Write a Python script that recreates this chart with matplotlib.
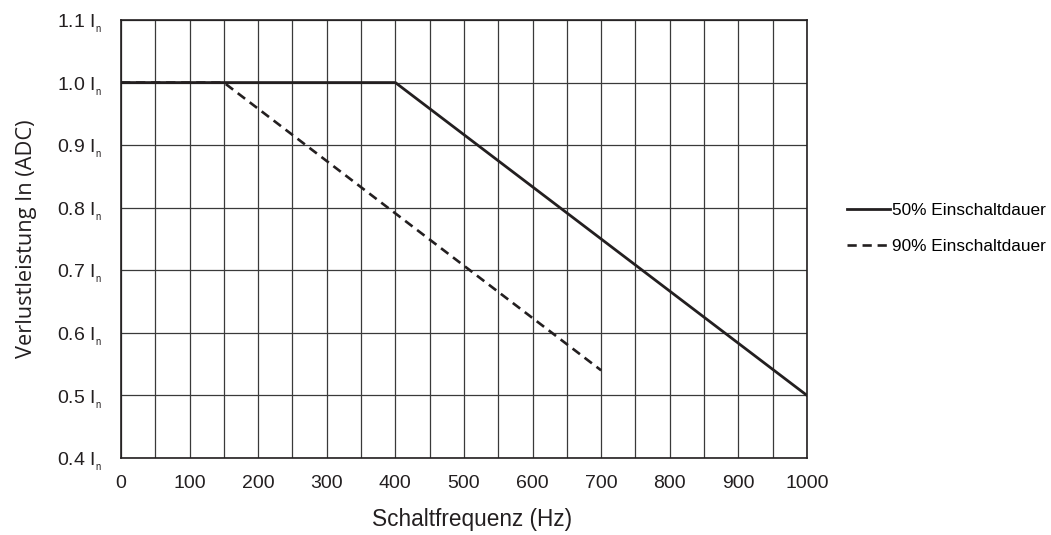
import matplotlib
matplotlib.use("Agg")
import matplotlib.pyplot as plt
import numpy as np

plt.rcParams["font.family"] = ["Liberation Sans", "DejaVu Sans"]
plt.rcParams["mathtext.fontset"] = "custom"
plt.rcParams["mathtext.rm"] = "Liberation Sans"

# data
freq_50 = [0, 400, 1000]
load_50 = [1.0, 1.0, 0.5]
freq_90 = [0, 150, 700]
load_90 = [1.0, 1.0, 0.54]

x_ticks = [0, 100, 200, 300, 400, 500, 600, 700, 800, 900, 1000]
y_ticks = [0.4, 0.5, 0.6, 0.7, 0.8, 0.9, 1.0, 1.1]
y_labels = [f"{v:.1f} I" + r"$_{_\mathrm{n}}$" for v in y_ticks]

fig = plt.figure(figsize=(10.51, 5.35), dpi=100)
ax = fig.add_axes([0.1151, 0.144, 0.6527, 0.8186])

ax.plot(freq_50, load_50, color="#231f20", lw=2.0, label="50% Einschaltdauer")
ax.plot(freq_90, load_90, color="#231f20", lw=1.9, ls=(0, (3.5, 2.2)), label="90% Einschaltdauer")

ax.set_xlim(0, 1000)
ax.set_ylim(0.4, 1.1)
ax.set_xticks(x_ticks)
ax.set_xticks(np.arange(0, 1001, 50), minor=True)
ax.set_yticks(y_ticks)
ax.set_yticklabels(y_labels)
ax.tick_params(axis="x", which="both", length=0, labelsize=14, colors="#231f20", pad=12)
ax.tick_params(axis="y", which="both", length=0, labelsize=14, colors="#231f20", pad=14)
ax.grid(True, which="both", color="#3a3a3a", lw=0.9)
ax.set_axisbelow(True)
for s in ax.spines.values():
    s.set_color("#231f20")
    s.set_linewidth(1.2)

ax.set_xlabel("Schaltfrequenz (Hz)", fontsize=16.3, color="#231f20", labelpad=13)
ax.xaxis.set_label_coords(0.512, -0.115)
ax.set_ylabel("Verlustleistung In (ADC)", fontsize=15.7, color="#231f20", labelpad=14,
              family=["Open Sans", "DejaVu Sans"])

fig.legend(loc="center left", bbox_to_anchor=(0.791, 0.573), frameon=False, fontsize=12.4,
           handlelength=2.5, handletextpad=0.15, labelspacing=1.2)

fig.savefig("out.png", dpi=100)
